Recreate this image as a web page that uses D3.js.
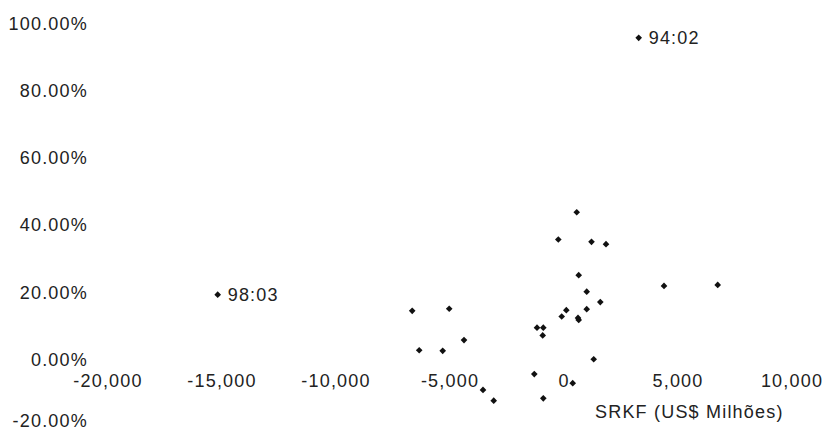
<!DOCTYPE html>
<html>
<head>
<meta charset="utf-8">
<script src="https://cdn.jsdelivr.net/npm/d3@7"></script>
<style>
  body { margin: 0; background: #fff; }
  svg text { font-family: "Liberation Sans", Arial, sans-serif; font-size: 18px; fill: #222; letter-spacing: 1.2px; }
</style>
</head>
<body>
<div id="scatter"></div>
<script>
// SRKF (US$ milhoes) vs taxa (%), one point per quarter
var srkf = [580, -228, 1228, 1864, 667, 1018, 1614, -6636, -5013, 123,
            -79, 1018, 636, 667, -1162, -886, -912, -4364, -6329, -5298,
            1325, -1281, 404, -3531, -3061, -886, 3298, -15167, 4408, 6763];
var rate = [43.7, 35.6, 34.9, 34.2, 25.0, 20.1, 17.0, 14.4, 15.0, 14.6,
            12.7, 14.9, 12.3, 11.7, 9.4, 9.4, 7.1, 5.7, 2.7, 2.5,
            0.0, -4.4, -7.1, -9.1, -12.3, -11.6, 95.5, 19.2, 21.8, 22.1];
var pointNames = ["", "", "", "", "", "", "", "", "", "",
                  "", "", "", "", "", "", "", "", "", "",
                  "", "", "", "", "", "", "94:02", "98:03", "", ""];
var xTicks = [-20000, -15000, -10000, -5000, 0, 5000, 10000];
var yTicks = [-20, 0, 20, 40, 60, 80, 100];
var xTitle = "SRKF (US$ Milhões)";

var svgWidth = 824;
var svgHeight = 431;

var svg = d3.select("#scatter")
  .append("svg")
  .attr("width", svgWidth)
  .attr("height", svgHeight);

var xScale = d3.scaleLinear()
  .domain([-20000, 10000])
  .range([107.5, 791.5]);

var yScale = d3.scaleLinear()
  .domain([-20, 100])
  .range([426.6, 22.7]);

// plain hyphen for negatives, like the original
var fmtX = d => d3.format(",")(d).replace("\u2212", "-");
var fmtY = d => d3.format(".2f")(d).replace("\u2212", "-") + "%";

var bottomAxis = d3.axisBottom(xScale)
  .tickValues(xTicks)
  .tickSize(0)
  .tickFormat(fmtX);

var leftAxis = d3.axisLeft(yScale)
  .tickValues(yTicks)
  .tickSize(0)
  .tickFormat(fmtY);

var xAxisG = svg.append("g")
  .attr("transform", `translate(0, ${yScale(0)})`)
  .call(bottomAxis);
xAxisG.select(".domain").remove();
xAxisG.selectAll("text")
  .attr("y", 21)
  .attr("dy", "0.35em")
  .attr("font-size", null)
  .attr("font-family", null)
  .attr("fill", null);

var yAxisG = svg.append("g")
  .attr("transform", "translate(90, 0)")
  .call(leftAxis);
yAxisG.select(".domain").remove();
yAxisG.selectAll("text")
  .attr("x", -2)
  .attr("dy", "0.35em")
  .attr("y", d => d < 0 ? -6 : 0)   // bottom label sits on the edge
  .attr("font-size", null)
  .attr("font-family", null)
  .attr("fill", null);

svg.append("text")
  .attr("x", 595)
  .attr("y", 412)
  .attr("dy", "0.35em")
  .text(xTitle);

var pts = srkf.map((d, i) => ({x: d, y: rate[i], name: pointNames[i]}));

var marker = d3.symbol().type(d3.symbolDiamond2).size(28);

svg.append("g").selectAll("path")
  .data(pts)
  .enter()
  .append("path")
  .attr("d", marker)
  .attr("transform", d => `translate(${xScale(d.x)}, ${yScale(d.y)})`)
  .attr("fill", "#111");

svg.append("g").selectAll("text")
  .data(pts.filter(d => d.name !== ""))
  .enter()
  .append("text")
  .attr("x", d => xScale(d.x) + 10)
  .attr("y", d => yScale(d.y))
  .attr("dy", "0.35em")
  .text(d => d.name);
</script>
</body>
</html>
